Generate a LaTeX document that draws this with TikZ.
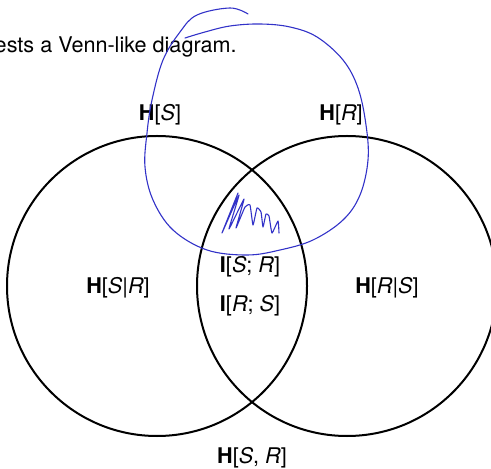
\documentclass[tikz,border=0pt]{standalone}
\usepackage{fontspec}
\setmainfont{TeX Gyre Heros}
\begin{document}
\begin{tikzpicture}[x=0.5pt,y=-0.5pt,
  lbl/.style={inner sep=0pt,font=\fontsize{10.8}{13}\selectfont},
  setc/.style={circle,draw=black,line width=1pt,minimum size=150pt,inner sep=0pt},
  ink/.style={draw={rgb,255:red,50;green,50;blue,200},line width=0.55pt,line cap=round,line join=round}]
\useasboundingbox (0,0) rectangle (491,469);
% circles
\node[setc] (S) at (157,286) {};
\node[setc] (R) at (347,286) {};
% caption fragment
\node[lbl,anchor=base east] (cap) at (237,53) {ests a Venn-like diagram.};
% labels
\node[lbl] (hs) at (160,115) {\textbf{H}[\textit{S}]};
\node[lbl] (hr) at (341,115) {\textbf{H}[\textit{R}]};
\node[lbl] (isr) at (250,267) {\textbf{I}[\textit{S}; \textit{R}]};
\node[lbl] (irs) at (250,306) {\textbf{I}[\textit{R}; \textit{S}]};
\node[lbl] (hsr) at (118,288) {\textbf{H}[\textit{S}|\textit{R}]};
\node[lbl] (hrs) at (387,288) {\textbf{H}[\textit{R}|\textit{S}]};
\node[lbl] (hj) at (252,458) {\textbf{H}[\textit{S}, \textit{R}]};
% hand-drawn ink
\draw[ink] plot[smooth,tension=0.6] coordinates {
 (248,14) (230,8) (197,15) (180,32) (163,60) (152,100) (147,133) (145,167)
 (153,200) (173,230) (207,250) (247,255) (280,250) (313,240) (343,220)
 (360,195) (368,160) (366,125) (358,88) (343,60) (317,37) (290,27) (260,24)
 (230,26) (205,32) (185,38)};
\draw[ink] plot[smooth,tension=0.25] coordinates {
 (238,193) (222,233) (239,195) (229,229) (244,199) (236,228)
 (245,207) (250,205) (253,225) (257,208) (261,212) (263,227)
 (266,214) (269,216) (272,233) (278,221) (279,233)};
\end{tikzpicture}
\end{document}
